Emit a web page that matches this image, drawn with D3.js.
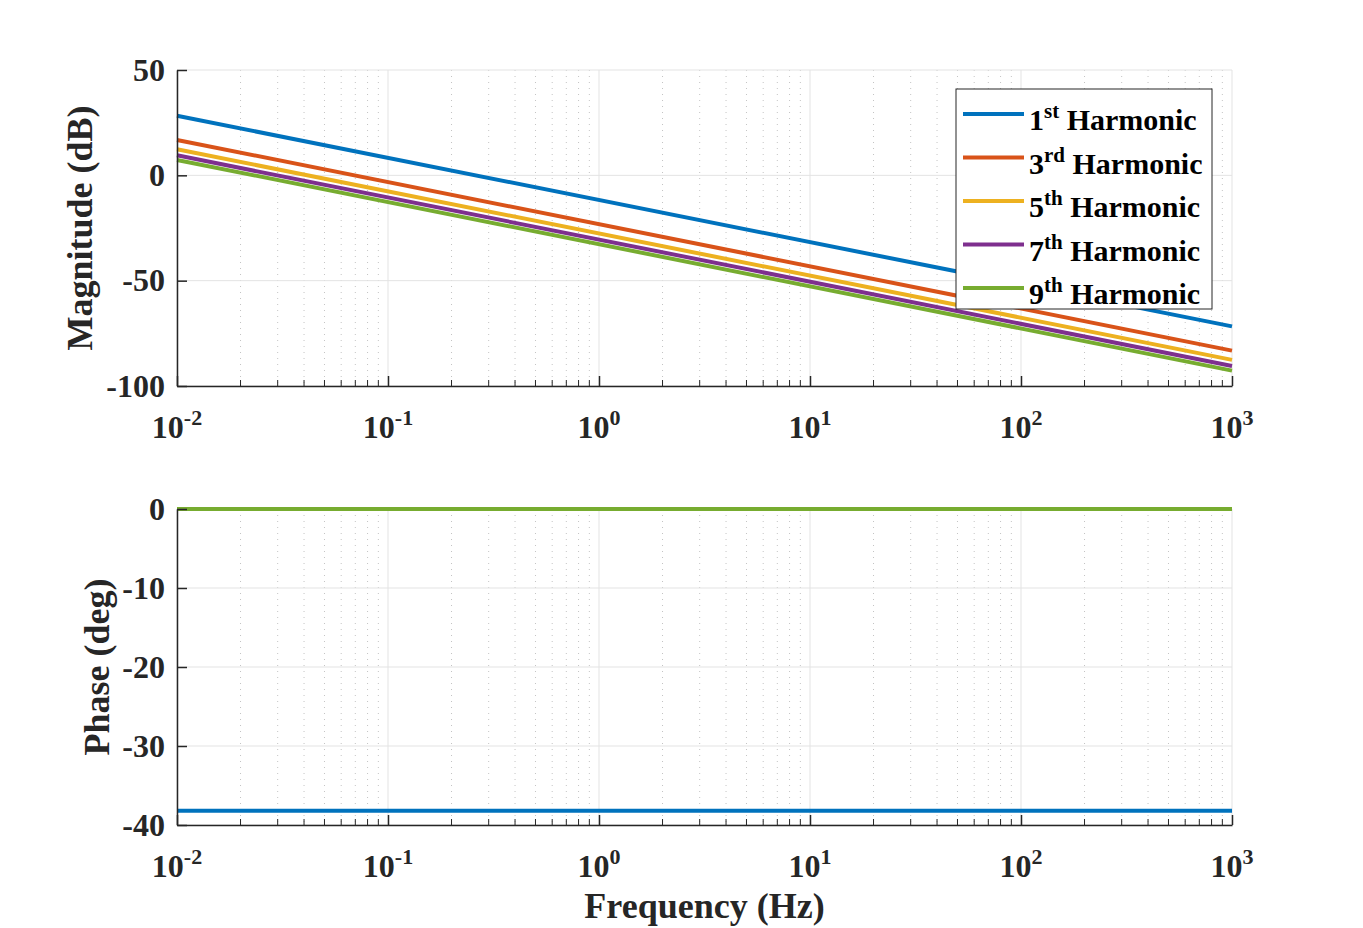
<!DOCTYPE html>
<html>
<head>
<meta charset="utf-8">
<script src="https://cdn.jsdelivr.net/npm/d3@7"></script>
<style>
  body { margin: 0; background: #fff; }
  svg { display: block; }
</style>
</head>
<body>
<div id="chart"></div>
<script>
// Data
const harmonicNum = ['1', '3', '5', '7', '9'];
const harmonicSuffix = ['st', 'rd', 'th', 'th', 'th'];
const freqEnds = [0.01, 1000];
const magnitudeDb = [
  [28.3, -71.7],
  [16.8, -83.2],
  [12.4, -87.6],
  [9.5, -90.5],
  [7.3, -92.7]
];
const phaseDeg = [-38.2, 0, 0, 0, 0];
const magTicks = [50, 0, -50, -100];
const phaseTicks = [0, -10, -20, -30, -40];
const decadeExps = [-2, -1, 0, 1, 2, 3];

const colors = ['#0072BD', '#D95319', '#EDB120', '#7E2F8E', '#77AC30'];
const FONT = "'Times New Roman', 'Liberation Serif', Tinos, serif";

const W = 1363, H = 928;
const left = 177, right = 1232;

const svg = d3.select('#chart').append('svg')
  .attr('width', W)
  .attr('height', H)
  .attr('font-family', FONT)
  .attr('font-weight', 'bold')
  .attr('fill', '#262626');

const x = d3.scaleLog().domain([0.01, 1000]).range([left, right]);

// minor tick values 2..9 per decade
const minorVals = [];
decadeExps.slice(0, -1).forEach(e => {
  for (let k = 2; k <= 9; k++) minorVals.push(k * Math.pow(10, e));
});
const majorVals = decadeExps.map(e => Math.pow(10, e));

function panel(top, bottom, yDomain, yTicks, ylabel, ylabelX, drawData) {
  const y = d3.scaleLinear().domain(yDomain).range([bottom, top]);
  const g = svg.append('g');

  // minor grid (dotted)
  g.selectAll('.minor-grid')
    .data(minorVals)
    .join('line')
    .attr('x1', d => x(d)).attr('x2', d => x(d))
    .attr('y1', top).attr('y2', bottom)
    .attr('stroke', '#c4c4c4')
    .attr('stroke-width', 1)
    .attr('stroke-dasharray', '1,5');

  // major grid
  g.selectAll('.vgrid')
    .data(majorVals)
    .join('line')
    .attr('x1', d => x(d)).attr('x2', d => x(d))
    .attr('y1', top).attr('y2', bottom)
    .attr('stroke', '#e3e3e3')
    .attr('stroke-width', 1);

  g.selectAll('.hgrid')
    .data(yTicks)
    .join('line')
    .attr('x1', left).attr('x2', right)
    .attr('y1', d => y(d)).attr('y2', d => y(d))
    .attr('stroke', '#e3e3e3')
    .attr('stroke-width', 1);

  drawData(g, y);

  // bottom axis
  const xAxis = d3.axisBottom(x)
    .tickValues(majorVals)
    .tickSizeInner(-10)
    .tickSizeOuter(0)
    .tickFormat('');
  g.append('g')
    .attr('transform', `translate(0,${bottom})`)
    .call(xAxis)
    .append('g').selectAll('line')
    .data(minorVals)
    .join('line')
    .attr('x1', d => x(d)).attr('x2', d => x(d))
    .attr('y1', 0).attr('y2', -6)
    .attr('stroke', '#262626');

  // left axis
  const yAxis = d3.axisLeft(y)
    .tickValues(yTicks)
    .tickSizeInner(-10)
    .tickSizeOuter(0)
    .tickFormat('');
  g.append('g')
    .attr('transform', `translate(${left},0)`)
    .call(yAxis);

  g.selectAll('.domain, .tick line')
    .attr('stroke', '#262626')
    .attr('stroke-width', 1.5);

  // y tick labels
  g.selectAll('.ylab')
    .data(yTicks)
    .join('text')
    .attr('x', left - 12)
    .attr('y', d => y(d))
    .attr('dy', '0.33em')
    .attr('text-anchor', 'end')
    .attr('font-family', FONT)
    .style('font-size', '32px')
    .text(d => d);

  // x tick labels 10^n
  const xl = g.selectAll('.xlab')
    .data(decadeExps)
    .join('text')
    .attr('x', d => x(Math.pow(10, d)))
    .attr('y', bottom + 52)
    .attr('text-anchor', 'middle')
    .attr('font-family', FONT)
    .style('font-size', '32px');
  xl.append('tspan').text('10');
  xl.append('tspan')
    .attr('dy', '-13')
    .style('font-size', '22px')
    .text(d => d);

  // y axis label
  svg.append('text')
    .attr('transform', `translate(${ylabelX},${(top + bottom) / 2}) rotate(-90)`)
    .attr('text-anchor', 'middle')
    .attr('font-family', FONT)
    .style('font-size', '36px')
    .text(ylabel);

  return y;
}

// Magnitude panel
panel(70, 386, [-100, 50], magTicks, 'Magnitude (dB)', 92, (g, y) => {
  const line = d3.line().x(d => x(d[0])).y(d => y(d[1]));
  g.selectAll('.mag')
    .data(magnitudeDb)
    .join('path')
    .attr('fill', 'none')
    .attr('stroke', (d, i) => colors[i])
    .attr('stroke-width', 4)
    .attr('d', d => line(freqEnds.map((f, j) => [f, d[j]])));
});

// Phase panel
panel(509, 825, [-40, 0], phaseTicks, 'Phase (deg)', 109, (g, y) => {
  const line = d3.line().x(d => x(d[0])).y(d => y(d[1]));
  g.selectAll('.ph')
    .data(phaseDeg)
    .join('path')
    .attr('fill', 'none')
    .attr('stroke', (d, i) => colors[i])
    .attr('stroke-width', 4)
    .attr('d', d => line(freqEnds.map(f => [f, d])));
});

// x label
svg.append('text')
  .attr('x', (left + right) / 2)
  .attr('y', 918)
  .attr('text-anchor', 'middle')
  .attr('font-family', FONT)
  .style('font-size', '36px')
  .text('Frequency (Hz)');

// Legend
const lg = svg.append('g').attr('transform', 'translate(956,89)');
lg.append('rect')
  .attr('width', 256).attr('height', 220)
  .attr('fill', '#fff')
  .attr('stroke', '#262626')
  .attr('stroke-width', 1);

const items = lg.selectAll('.item')
  .data(harmonicNum)
  .join('g')
  .attr('transform', (d, i) => `translate(0,${25 + i * 43.5})`);

items.append('line')
  .attr('x1', 7).attr('x2', 68)
  .attr('y1', 0).attr('y2', 0)
  .attr('stroke', (d, i) => colors[i])
  .attr('stroke-width', 4);

const lt = items.append('text')
  .attr('x', 73)
  .attr('y', 16)
  .attr('fill', '#000')
  .attr('font-family', FONT)
  .style('font-size', '30px');
lt.append('tspan').text(d => d);
lt.append('tspan')
  .attr('dy', -12)
  .style('font-size', '21px')
  .text((d, i) => harmonicSuffix[i]);
lt.append('tspan')
  .attr('dy', 12)
  .text(' Harmonic');
</script>
</body>
</html>
